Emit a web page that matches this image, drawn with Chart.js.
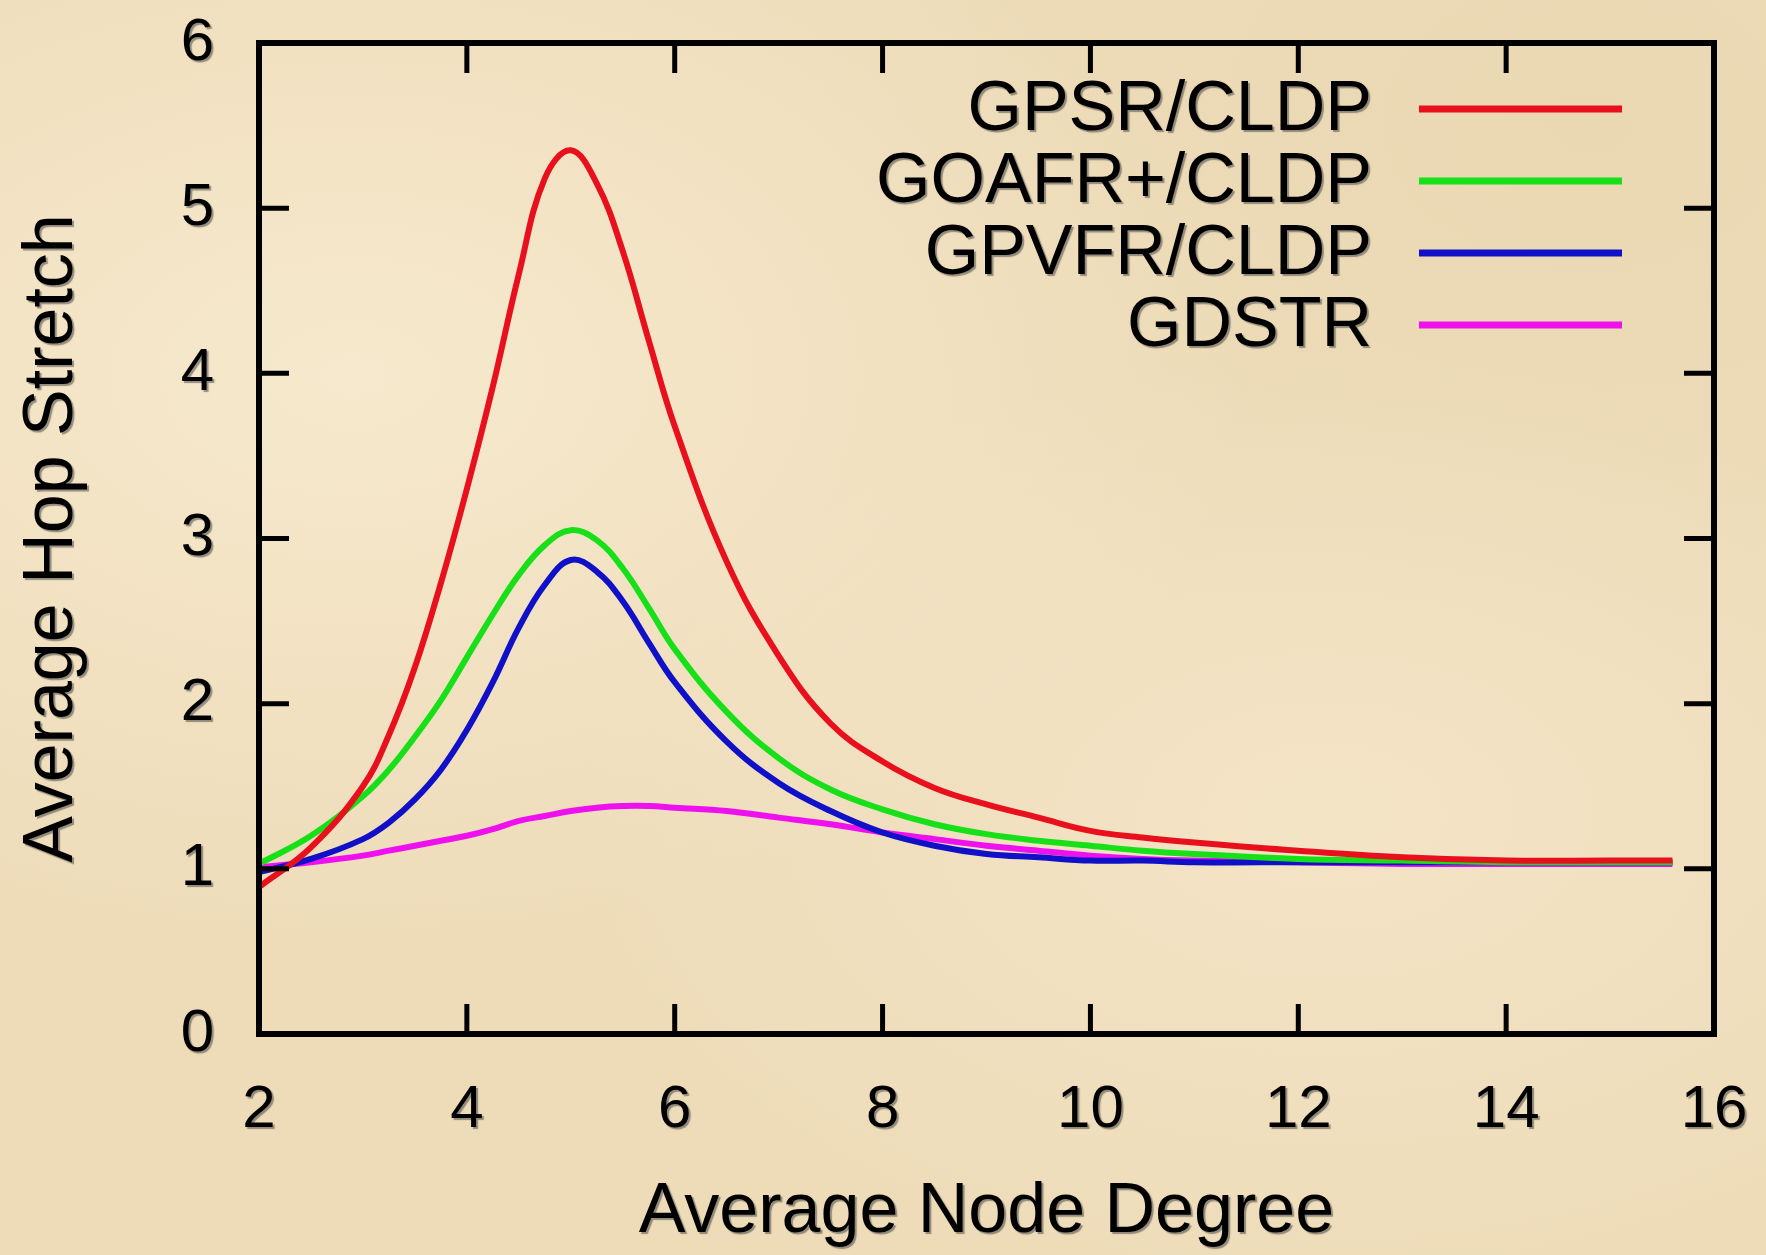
<!DOCTYPE html>
<html>
<head>
<meta charset="utf-8">
<script src="https://cdn.jsdelivr.net/npm/chart.js@4.4.1/dist/chart.umd.min.js"></script>
<style>
  html, body { margin: 0; padding: 0; }
  body {
    width: 1766px; height: 1255px; overflow: hidden;
    background:
      radial-gradient(ellipse at 20% 30%, rgba(248,236,210,0.8) 0%, rgba(248,236,210,0) 45%),
      radial-gradient(ellipse at 75% 65%, rgba(246,232,204,0.7) 0%, rgba(246,232,204,0) 40%),
      radial-gradient(ellipse at 90% 10%, rgba(232,214,176,0.6) 0%, rgba(232,214,176,0) 35%),
      #eedcb9;
  }
  #wrap { position: relative; width: 1766px; height: 1255px; }
</style>
</head>
<body>
<div id="wrap"><canvas id="hop-chart" width="1766" height="1255"></canvas></div>
<script>
// average node degree (x)
const degrees = [2, 2.5, 3, 3.25, 3.5, 3.75, 4, 4.25, 4.5, 4.75, 5, 5.25, 5.5, 5.75, 6, 6.5, 7, 7.5, 8, 8.5, 9, 9.5, 10, 10.5, 11, 12, 13, 14, 15, 15.6];

// average hop stretch per protocol
const gpsrCldp  = [0.89, 1.13, 1.50, 1.81, 2.22, 2.73, 3.30, 3.92, 4.60, 5.18, 5.35, 5.15, 4.74, 4.20, 3.68, 2.86, 2.29, 1.88, 1.65, 1.49, 1.39, 1.31, 1.23, 1.19, 1.16, 1.11, 1.07, 1.05, 1.05, 1.05];
const goafrCldp = [1.03, 1.20, 1.44, 1.60, 1.80, 2.02, 2.28, 2.54, 2.78, 2.96, 3.05, 2.99, 2.82, 2.58, 2.33, 1.95, 1.67, 1.48, 1.36, 1.27, 1.21, 1.17, 1.14, 1.11, 1.09, 1.06, 1.05, 1.04, 1.04, 1.04];
const gpvfrCldp = [0.98, 1.06, 1.18, 1.28, 1.42, 1.60, 1.84, 2.13, 2.46, 2.72, 2.87, 2.80, 2.62, 2.37, 2.13, 1.77, 1.52, 1.35, 1.22, 1.14, 1.09, 1.07, 1.05, 1.05, 1.04, 1.04, 1.04, 1.04, 1.04, 1.04];
const gdstr     = [1.01, 1.04, 1.08, 1.11, 1.14, 1.17, 1.20, 1.24, 1.29, 1.32, 1.35, 1.37, 1.38, 1.38, 1.37, 1.35, 1.31, 1.27, 1.22, 1.18, 1.14, 1.11, 1.08, 1.06, 1.05, 1.04, 1.03, 1.03, 1.03, 1.03];

const seriesNames  = ["GPSR/CLDP", "GOAFR+/CLDP", "GPVFR/CLDP", "GDSTR"];
const seriesValues = [gpsrCldp, goafrCldp, gpvfrCldp, gdstr];
const seriesColors = ["#e8101c", "#18e018", "#1010c8", "#ee10ee"];

const xTickValues = [2, 4, 6, 8, 10, 12, 14, 16];
const yTickValues = [0, 1, 2, 3, 4, 5, 6];

const FONT = '"Liberation Sans", Arial, Helvetica, sans-serif';

function toPoints(vals) {
    return vals.map((v, i) => ({ x: degrees[i], y: v }));
}

// keep label overhang from pushing the plot box around
function noOverhang(scale) {
    scale.paddingTop = 0;
    scale.paddingBottom = 0;
    scale.paddingLeft = 0;
    scale.paddingRight = 0;
}

function textShadow(ctx, on) {
    ctx.shadowColor = on ? 'rgba(70,70,70,0.55)' : 'rgba(0,0,0,0)';
    ctx.shadowOffsetX = on ? 2 : 0;
    ctx.shadowOffsetY = on ? 2 : 0;
    ctx.shadowBlur = on ? 1 : 0;
}

// soft grey halo on axis text, like the scanned original
const labelShadow = {
    id: 'labelShadow',
    beforeDraw(chart) { textShadow(chart.ctx, true); },
    beforeDatasetsDraw(chart) { textShadow(chart.ctx, false); }
};

// gnuplot style box with inward ticks on all four sides
const frameBox = {
    id: 'frameBox',
    afterDraw(chart) {
        const { ctx, chartArea } = chart;
        const xs = chart.scales.x, ys = chart.scales.y;
        const len = 30;
        ctx.save();
        textShadow(ctx, false);
        ctx.strokeStyle = '#000';
        ctx.lineWidth = 5;
        ctx.beginPath();
        xTickValues.forEach(v => {
            const px = xs.getPixelForValue(v);
            ctx.moveTo(px, chartArea.bottom); ctx.lineTo(px, chartArea.bottom - len);
            ctx.moveTo(px, chartArea.top); ctx.lineTo(px, chartArea.top + len);
        });
        yTickValues.forEach(v => {
            const py = ys.getPixelForValue(v);
            ctx.moveTo(chartArea.left, py); ctx.lineTo(chartArea.left + len, py);
            ctx.moveTo(chartArea.right, py); ctx.lineTo(chartArea.right - len, py);
        });
        ctx.stroke();
        ctx.lineWidth = 6;
        ctx.strokeRect(chartArea.left, chartArea.top, chartArea.right - chartArea.left, chartArea.bottom - chartArea.top);
        ctx.restore();
    }
};

// legend: right aligned text, sample line to the right
const hopLegend = {
    id: 'hopLegend',
    afterDatasetsDraw(chart) {
        const { ctx, chartArea } = chart;
        ctx.save();
        ctx.font = '70px ' + FONT;
        ctx.textAlign = 'right';
        ctx.textBaseline = 'middle';
        chart.data.datasets.forEach((ds, i) => {
            const y = chartArea.top + 66 + i * 72;
            textShadow(ctx, true);
            ctx.fillStyle = '#000';
            ctx.fillText(ds.label, chartArea.right - 342, y + 2);
            textShadow(ctx, false);
            ctx.strokeStyle = ds.borderColor;
            ctx.lineWidth = 7;
            ctx.beginPath();
            ctx.moveTo(chartArea.right - 295, y);
            ctx.lineTo(chartArea.right - 92, y);
            ctx.stroke();
        });
        ctx.restore();
    }
};

new Chart(document.getElementById('hop-chart'), {
    type: 'line',
    data: {
        datasets: seriesNames.map((name, i) => ({
            label: name,
            data: toPoints(seriesValues[i]),
            borderColor: seriesColors[i],
            backgroundColor: seriesColors[i],
            borderWidth: 6,
            pointRadius: 0,
            tension: 0.4,
            fill: false
        }))
    },
    options: {
        responsive: false,
        animation: false,
        devicePixelRatio: 1,
        layout: { padding: { top: 43, right: 52, left: 0, bottom: 0 } },
        plugins: {
            legend: { display: false },
            tooltip: { enabled: false }
        },
        scales: {
            x: {
                type: 'linear',
                min: 2, max: 16,
                afterFit(scale) { scale.height = 221; noOverhang(scale); },
                grid: { display: false, drawTicks: false },
                border: { display: false },
                ticks: {
                    stepSize: 2,
                    padding: 40,
                    color: '#000',
                    font: { family: FONT, size: 60 },
                    maxRotation: 0
                },
                title: {
                    display: true,
                    text: 'Average Node Degree',
                    color: '#000',
                    font: { family: FONT, size: 70 },
                    padding: { top: 0, bottom: 0 }
                }
            },
            y: {
                type: 'linear',
                min: 0, max: 6,
                afterFit(scale) { scale.width = 259; noOverhang(scale); },
                grid: { display: false, drawTicks: false },
                border: { display: false },
                ticks: {
                    stepSize: 1,
                    padding: 45,
                    color: '#000',
                    font: { family: FONT, size: 60 }
                },
                title: {
                    display: true,
                    text: 'Average Hop Stretch',
                    color: '#000',
                    font: { family: FONT, size: 70 },
                    padding: { top: 11, bottom: 0 }
                }
            }
        }
    },
    plugins: [labelShadow, hopLegend, frameBox]
});
</script>
</body>
</html>
